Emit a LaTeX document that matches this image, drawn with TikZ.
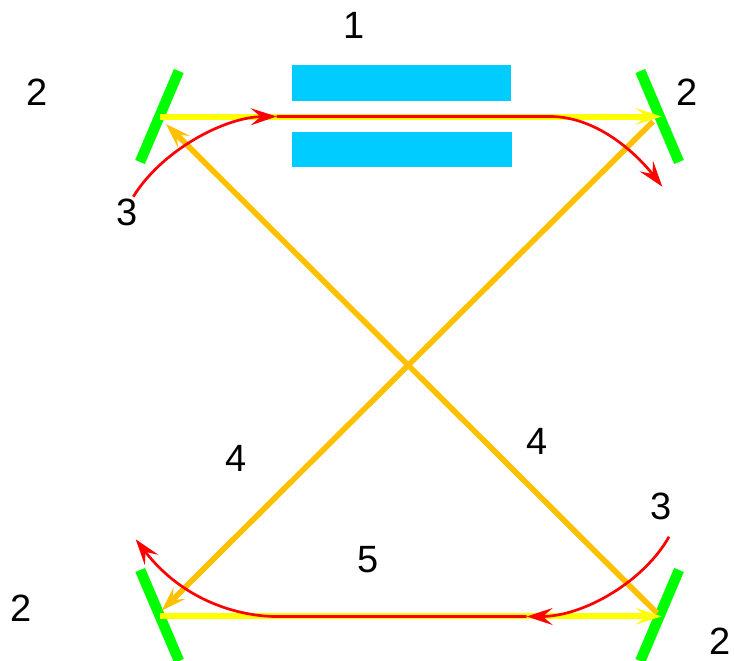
\documentclass[tikz,border=0pt]{standalone}
\usepackage{fontspec}
\setmainfont{Liberation Sans}
\usetikzlibrary{arrows.meta}
\definecolor{cblue}{HTML}{00CCFF}
\definecolor{cgreen}{HTML}{00FF00}
\definecolor{cyellow}{HTML}{FFFF00}
\definecolor{corange}{HTML}{FFC000}
\definecolor{cred}{HTML}{FF0000}
\tikzset{
  lbl/.style={font=\fontsize{38}{38}\selectfont,text=black,inner sep=0pt},
  mirror/.style={draw=cgreen,line width=10.5pt},
  plate/.style={fill=cblue,draw=none},
  beam/.style={draw=cyellow,line width=6pt,-{Stealth[length=26pt,width=16.5pt,inset=11pt,fill=cyellow]}},
  cross/.style={draw=corange,line width=5.6pt,-{Stealth[length=25pt,width=16.5pt,inset=10pt,fill=corange]}},
  pulse/.style={draw=cred,line width=2.7pt,-{Stealth[length=26pt,width=17pt,inset=10pt,fill=cred]}}
}
\begin{document}
\begin{tikzpicture}[x=1pt,y=-1pt]
\useasboundingbox (0,0) rectangle (734,661);
% plates
\fill[plate] (291.5,65.5) rectangle (511,101);
\fill[plate] (292,132) rectangle (511.5,167);
% mirror end points
\coordinate (tla) at (178.8,71);  \coordinate (tlb) at (140,162);
\coordinate (tra) at (640.3,71);  \coordinate (trb) at (679,162);
\coordinate (bla) at (140.2,570); \coordinate (blb) at (179,661);
\coordinate (bra) at (679,570);   \coordinate (brb) at (640.3,661);
\draw[mirror] (tla) -- (tlb);
\draw[mirror] (tra) -- (trb);
\draw[mirror] (bla) -- (blb);
\draw[mirror] (bra) -- (brb);
% crossing beams
\coordinate (crossTRs) at (653,121.5);
\coordinate (crossBLe) at (161.7,610.7);
\coordinate (crossBRs) at (657,613);
\coordinate (crossTLe) at (166,124);
\draw[cross] (crossTRs) -- (crossBLe);
\draw[cross] (crossBRs) -- (crossTLe);
% horizontal beams
\coordinate (topS) at (160,116.5);
\coordinate (topE) at (661.7,116.5);
\coordinate (botS) at (160,616.3);
\coordinate (botE) at (661.7,616.3);
\draw[beam] (topS) -- (topE);
\draw[beam] (botS) -- (botE);
% pulses
\coordinate (p1) at (133.3,196.7);
\coordinate (p2) at (276.7,116.5);
\coordinate (p3) at (550,116.5);
\coordinate (p4) at (662.3,186.7);
\coordinate (q1) at (669,536.7);
\coordinate (q2) at (526.7,616.5);
\coordinate (q3) at (275,616.5);
\coordinate (q4) at (135.7,539.3);
\draw[pulse] (p1) .. controls (162,150) and (225,117) .. (p2);
\draw[pulse] (p2) -- (p3) .. controls (600,116.5) and (640,158) .. (p4);
\draw[pulse] (q1) .. controls (645,580) and (585,616.5) .. (q2);
\draw[pulse] (q2) -- (q3) .. controls (240,616) and (184,602) .. (q4);
% labels
\node[lbl] (n1) at (354,25) {1};
\node[lbl] (n2a) at (37.5,92) {2};
\node[lbl] (n2b) at (687.5,92) {2};
\node[lbl] (n2c) at (21.5,608) {2};
\node[lbl] (n2d) at (720.5,641.5) {2};
\node[lbl] (n3a) at (127.5,212) {3};
\node[lbl] (n3b) at (661.5,506) {3};
\node[lbl] (n4a) at (236.5,458) {4};
\node[lbl] (n4b) at (537.5,441) {4};
\node[lbl] (n5) at (368.5,560) {5};
\end{tikzpicture}
\end{document}
